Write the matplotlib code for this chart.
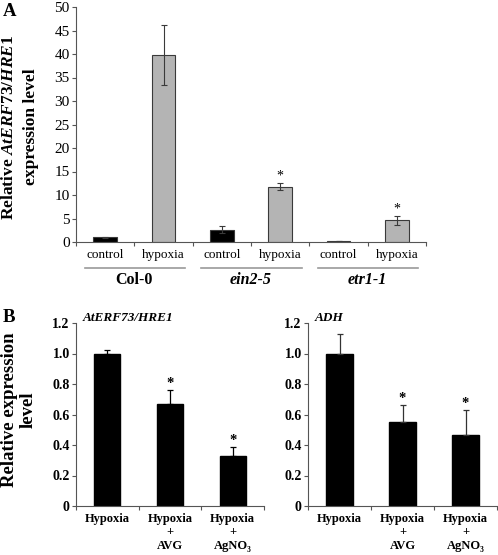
import matplotlib
matplotlib.use("Agg")
import matplotlib.pyplot as plt
import matplotlib.transforms as mtrans
import numpy as np

plt.rcParams['font.family'] = ['Liberation Serif', 'DejaVu Serif']
plt.rcParams['mathtext.fontset'] = 'custom'
plt.rcParams['mathtext.rm'] = 'Liberation Serif:bold'
plt.rcParams['mathtext.it'] = 'Liberation Serif:italic:bold'
plt.rcParams['mathtext.bf'] = 'Liberation Serif:bold'

# ---------------- Data ----------------
a_conditions = ["control", "hypoxia", "control", "hypoxia", "control", "hypoxia"]
a_genotypes = ["Col-0", "ein2-5", "etr1-1"]
a_values = [1.0, 39.8, 2.6, 11.8, 0.2, 4.6]
a_errors = [0.15, 6.4, 0.7, 0.8, 0.05, 1.0]
a_stars = [False, False, False, True, False, True]
a_yticks = [0, 5, 10, 15, 20, 25, 30, 35, 40, 45, 50]

b_categories = ["Hypoxia", "Hypoxia\n+\nAVG", "Hypoxia\n+\nAgNO₃"]
b_titles = ["AtERF73/HRE1", "ADH"]
b_values = [[1.0, 0.67, 0.325], [1.0, 0.55, 0.465]]
b_errors = [[0.025, 0.09, 0.06], [0.13, 0.11, 0.165]]
b_stars = [[False, True, True], [False, True, True]]
b_yticks = [0, 0.2, 0.4, 0.6, 0.8, 1.0, 1.2]
b_yticklabels = ["0", "0.2", "0.4", "0.6", "0.8", "1.0", "1.2"]

W, H = 498, 555
fig = plt.figure(figsize=(W / 100, H / 100), dpi=100)


def fig_axes(x0, y0, x1, y1):
    return fig.add_axes([x0 / W, 1 - y1 / H, (x1 - x0) / W, (y1 - y0) / H])

# ---------------- Panel A ----------------
axA = fig_axes(76, 7, 426, 242)
x = np.arange(len(a_values))
colors = ["black" if c == "control" else "#b4b4b4" for c in a_conditions]
axA.bar(x, a_values, width=0.41, color=colors, edgecolor="#3a3a3a", linewidth=0.8)
axA.errorbar(x, a_values, yerr=a_errors, fmt="none", ecolor="#3a3a3a",
             elinewidth=0.8, capsize=2.2, capthick=0.8)
for i, s in enumerate(a_stars):
    if s:
        axA.text(x[i], a_values[i] + a_errors[i] + 0.1, "*", ha="center", va="bottom",
                 fontsize=10)
axA.set_xlim(-0.5, len(a_values) - 0.5)
axA.set_ylim(0, 50)
axA.set_yticks(a_yticks)
axA.tick_params(axis="y", labelsize=11, length=3, width=0.8, pad=1.5, color="#555555")
axA.set_xticks(x)
axA.set_xticklabels(a_conditions, fontsize=9.5)
axA.tick_params(axis="x", length=0, pad=5)
axA.set_xticks(np.arange(-0.5, len(a_values), 1.0), minor=True)
axA.tick_params(axis="x", which="minor", length=3, width=0.8, color="#555555")
for sp in ["top", "right"]:
    axA.spines[sp].set_visible(False)
for sp in ["left", "bottom"]:
    axA.spines[sp].set_color("#555555")
    axA.spines[sp].set_linewidth(0.8)

trA = mtrans.blended_transform_factory(axA.transData, axA.transAxes)
for g, name in enumerate(a_genotypes):
    c0, c1 = 2 * g, 2 * g + 1
    axA.plot([c0 - 0.35, c1 + 0.37], [-0.111, -0.111], transform=trA, clip_on=False,
             color="#9a9a9a", lw=1.2)
    style = "normal" if g == 0 else "italic"
    axA.text((c0 + c1) / 2, -0.163, name, transform=trA, ha="center", va="center",
             fontsize=11.5, fontweight="bold", fontstyle=style)

fig.text(20 / W, 1 - 127 / H, "Relative $AtERF73/HRE1$\nexpression level", fontsize=12.5,
         fontweight="bold", rotation=90, ha="center", va="center", multialignment="center",
         linespacing=1.45)
fig.text(10 / W, 1 - 12 / H, "A", fontsize=13.5, fontweight="bold", ha="center", va="center")

# ---------------- Panel B ----------------
b_boxes = [(76, 323, 264, 506), (308, 323, 497, 506)]
for k in range(2):
    ax = fig_axes(*b_boxes[k])
    xb = np.arange(len(b_categories))
    ax.bar(xb, b_values[k], width=0.42, color="black", edgecolor="black")
    ax.errorbar(xb, b_values[k], yerr=[np.zeros(3), b_errors[k]], fmt="none",
                ecolor="black" if k == 0 else "#333333", elinewidth=0.9,
                capsize=2.0, capthick=0.9)
    for i, s in enumerate(b_stars[k]):
        if s:
            ax.text(xb[i], b_values[k][i] + b_errors[k][i] + 0.0, "*", ha="center",
                    va="bottom", fontsize=10.5, fontweight="bold")
    ax.set_xlim(-0.5, 2.5)
    ax.set_ylim(0, 1.2)
    ax.set_yticks(b_yticks)
    ax.set_yticklabels(b_yticklabels, fontweight="bold")
    ax.tick_params(axis="y", labelsize=10, length=3, width=0.8, pad=1.5, color="#555555")
    ax.set_xticks(xb)
    ax.set_xticklabels(b_categories, fontsize=9, fontweight="bold", linespacing=1.15)
    ax.tick_params(axis="x", length=0, pad=5)
    ax.set_xticks(np.arange(-0.5, 3, 1.0), minor=True)
    ax.tick_params(axis="x", which="minor", length=3, width=0.8, color="#555555")
    for sp in ["top", "right"]:
        ax.spines[sp].set_visible(False)
    for sp in ["left", "bottom"]:
        ax.spines[sp].set_color("#555555")
        ax.spines[sp].set_linewidth(0.8)
    ax.text(0.035, 1.03, b_titles[k], transform=ax.transAxes, ha="left", va="center",
            fontsize=9.5, fontweight="bold", fontstyle="italic")

fig.text(19 / W, 1 - 410 / H, "Relative expression\nlevel", fontsize=13.5,
         fontweight="bold", rotation=90, ha="center", va="center", multialignment="center",
         linespacing=1.15)
fig.text(9 / W, 1 - 318 / H, "B", fontsize=13.5, fontweight="bold", ha="center", va="center")

fig.savefig("out.png", dpi=100)
